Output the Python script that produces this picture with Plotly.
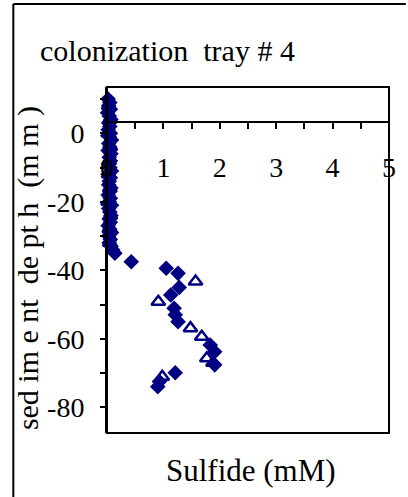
import plotly.graph_objects as go

# Series 1: filled diamonds (sulfide mM vs depth mm)
s1_depth = [10, 9, 8, 7, 6, 5, 4, 3, 2, 1, 0, -1, -2, -3, -4, -5, -6, -7, -8, -9,
            -10, -11, -12, -13, -14, -15, -16, -17, -18, -19, -20, -21, -22, -23,
            -24, -25, -26, -27, -28, -29, -30, -31, -32, -33, -34, -35,
            -37.5, -39.4, -40.9, -45.0, -47.2, -51.1, -53.0, -55.0, -61.8, -63.8,
            -67.6, -69.9, -72.5, -74.0]
s1_sulfide = [0.02, 0.05, 0.03, 0.06, 0.01, 0.04, 0.07, 0.03, 0.05, 0.02, 0.06, 0.04,
              0.08, 0.03, 0.05, 0.02, 0.07, 0.04, 0.06, 0.03, 0.05, 0.08, 0.02, 0.06,
              0.04, 0.03, 0.07, 0.05, 0.02, 0.06, 0.04, 0.08, 0.03, 0.05, 0.07, 0.04,
              0.06, 0.02, 0.05, 0.08, 0.03, 0.06, 0.04, 0.07, 0.10, 0.14,
              0.43, 1.05, 1.26, 1.28, 1.13, 1.19, 1.21, 1.26, 1.83, 1.91,
              1.91, 1.21, 0.93, 0.90]

# Series 2: open triangles
s2_depth = [8, 4, 0, -4, -8, -12, -16, -20, -24, -28, -32,
            -43.3, -49.2, -56.9, -59.4, -65.7, -67.0, -71.1]
s2_sulfide = [0.03, 0.05, 0.02, 0.06, 0.04, 0.03, 0.05, 0.02, 0.06, 0.04, 0.05,
              1.57, 0.91, 1.48, 1.68, 1.77, 1.88, 0.98]

x_ticks = [0, 1, 2, 3, 4, 5]
y_ticks = [0, -20, -40, -60, -80]

title_text = "colonization  tray # 4"
x_title = "Sulfide (mM)"
y_title = "sed im e nt  de pt h  (m m )"

NAVY = "#000080"
FONT = "Times New Roman, Liberation Serif, DejaVu Serif, serif"

fig = go.Figure()
fig.add_trace(go.Scatter(x=s1_sulfide, y=s1_depth, mode="markers", cliponaxis=False,
                         marker=dict(symbol="diamond", size=12, color=NAVY,
                                     line=dict(width=0))))
fig.add_trace(go.Scatter(x=s2_sulfide, y=s2_depth, mode="markers", cliponaxis=False,
                         marker=dict(symbol="triangle-up-open", size=12, color=NAVY,
                                     line=dict(width=2.5, color=NAVY))))

L, R, T, B = 107, 15, 87, 64
W, H = 408, 497
pw, ph = W - L - R, H - T - B

def px2x(px):
    return (px - L) / pw

def py2y(py):
    return (H - B - py) / ph

fig.update_layout(
    width=W, height=H,
    margin=dict(l=L, r=R, t=T, b=B),
    paper_bgcolor="white", plot_bgcolor="white",
    showlegend=False,
    font=dict(family=FONT, size=28, color="black"),
    xaxis=dict(range=[0, 5], tickvals=x_ticks, ticktext=[str(v) for v in x_ticks],
               anchor="free", position=py2y(122), side="bottom",
               showline=True, linecolor="black", linewidth=2,
               ticks="outside", ticklen=6, tickwidth=2, tickcolor="black",
               minor=dict(dtick=0.5, ticks="outside", ticklen=6, tickwidth=2, tickcolor="black"),
               ticklabelstandoff=14,
               showgrid=False, zeroline=False,
               tickfont=dict(family=FONT, size=28, color="black")),
    yaxis=dict(range=[-87.5, 13.5], tickvals=y_ticks, ticktext=[str(v) for v in y_ticks],
               showline=True, linecolor="black", linewidth=2,
               ticks="outside", ticklen=5, tickwidth=2, tickcolor="black",
               minor=dict(dtick=10, ticks="outside", ticklen=5, tickwidth=2, tickcolor="black"),
               ticklabelstandoff=10,
               showgrid=False, zeroline=False,
               tickfont=dict(family=FONT, size=28, color="black")),
)

# plot-area border
fig.add_shape(type="rect", xref="paper", yref="paper", x0=0, x1=1, y0=0, y1=1,
              line=dict(color="black", width=2), layer="above")
# outer frame (left and top edges)
fig.add_shape(type="line", xref="paper", yref="paper",
              x0=px2x(12), x1=px2x(12), y0=py2y(4), y1=py2y(500),
              line=dict(color="black", width=2))
fig.add_shape(type="line", xref="paper", yref="paper",
              x0=px2x(12), x1=px2x(410), y0=py2y(4), y1=py2y(4),
              line=dict(color="black", width=2))

fig.add_annotation(text=title_text, xref="paper", yref="paper",
                   x=px2x(37), y=py2y(50), xanchor="left", yanchor="middle",
                   showarrow=False, font=dict(family=FONT, size=30, color="black"))
fig.add_annotation(text=x_title, xref="paper", yref="paper",
                   x=px2x(253), y=py2y(470), xanchor="center", yanchor="middle",
                   showarrow=False, font=dict(family=FONT, size=31, color="black"))
fig.add_annotation(text=y_title, xref="paper", yref="paper", textangle=-90,
                   x=px2x(27), y=py2y(268), xanchor="center", yanchor="middle",
                   showarrow=False, font=dict(family=FONT, size=30, color="black"))

fig.write_html("out.html")
